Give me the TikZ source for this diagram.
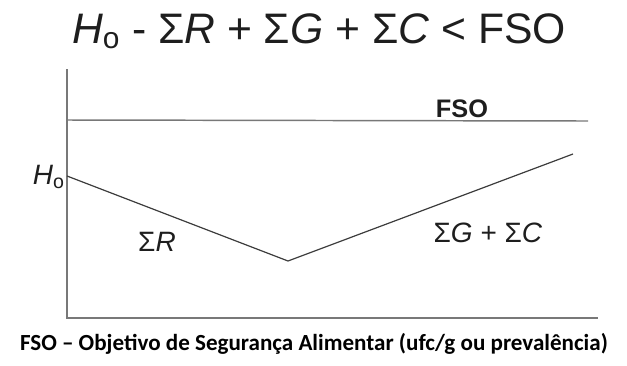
\documentclass[tikz,border=0pt]{standalone}
\usepackage{fontspec}
\setmainfont{Liberation Sans}
\newfontfamily\captionfont{Carlito}
\usetikzlibrary{positioning}
\definecolor{axisgray}{RGB}{120,120,120}
\definecolor{curvegray}{RGB}{60,60,60}
\definecolor{labelgray}{RGB}{30,30,30}

\begin{document}
\begin{tikzpicture}[x=0.75pt, y=-0.75pt, every node/.style={inner sep=0pt, text=labelgray}]
  \tikzset{
      axisline/.style={draw=axisgray, line width=1.1pt},
      hazard/.style={draw=curvegray, line width=0.9pt, line join=round},
      lbl/.style={font=\fontsize{21}{25}\selectfont}
  }
  \useasboundingbox (0,0) rectangle (627,365);

  % equation on top
  \node[font=\fontsize{32}{38}\selectfont] (eq) at (319, 31)
      {\textit{H}\textsubscript{o} - Σ\textit{R} + Σ\textit{G} + Σ\textit{C} < FSO};

  % axes
  \coordinate (top) at (67, 69);
  \coordinate (orig) at (67, 318);
  \coordinate (xend) at (598, 318);
  \draw[axisline] (top) -- (orig) -- (xend);

  % FSO level
  \coordinate (fsoL) at (67, 120);
  \coordinate (fsoR) at (588, 121);
  \draw[axisline] (fsoL) -- (fsoR);
  \node[font=\fontsize{19}{22}\selectfont\bfseries, anchor=south] (fso) at (462, 118) {FSO};

  % hazard level
  \coordinate (h0) at (67, 176);
  \coordinate (low) at (288, 261);
  \coordinate (end) at (573, 154);
  \draw[hazard] (h0) -- (low) -- (end);

  \node[lbl, anchor=east] (hlab) at (65, 177) {\textit{H}\textsubscript{o}};
  \node[lbl] (rlab) at (157, 242) {Σ\textit{R}};
  \node[lbl] (gclab) at (488, 233) {Σ\textit{G} + Σ\textit{C}};

  % caption
  \node[font=\captionfont\bfseries\fontsize{17.3}{20}\selectfont, text=black] (cap) at (314, 344)
      {FSO – Objetivo de Segurança Alimentar (ufc/g ou prevalência)};
\end{tikzpicture}
\end{document}
